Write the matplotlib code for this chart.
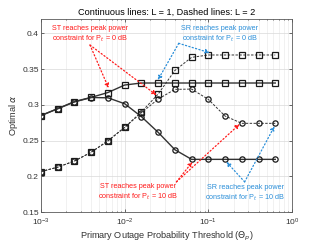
import matplotlib.pyplot as plt
import numpy as np

plt.rcParams['font.family'] = ['Liberation Sans', 'DejaVu Sans']

# outage threshold values (log spaced)
theta = [1e-3, 1.585e-3, 2.512e-3, 3.981e-3, 6.31e-3, 1e-2, 1.585e-2, 2.512e-2,
         3.981e-2, 6.31e-2, 1e-1, 1.585e-1, 2.512e-1, 3.981e-1, 6.31e-1]

# L = 1 (continuous)
l1_pt0 = [0.285, 0.2946, 0.3046, 0.3104, 0.3172, 0.3277, 0.3305, 0.3305,
          0.3305, 0.3305, 0.3305, 0.3305, 0.3305, 0.3305, 0.3305]
l1_pt10 = [0.285, 0.2946, 0.3040, 0.3102, 0.3098, 0.3015, 0.2834, 0.2615,
           0.2372, 0.2237, 0.2237, 0.2237, 0.2237, 0.2237, 0.2237]
# L = 2 (dashed)
l2_pt0 = [0.2066, 0.2128, 0.2214, 0.2337, 0.2496, 0.2685, 0.2900, 0.3150,
          0.3480, 0.3664, 0.3697, 0.3697, 0.3697, 0.3697, 0.3697]
l2_pt10 = [0.2066, 0.2128, 0.2214, 0.2337, 0.2496, 0.2685, 0.2890, 0.3080,
           0.3216, 0.3220, 0.3076, 0.2843, 0.2741, 0.2741, 0.2741]

fig = plt.figure(figsize=(3.23, 2.44), dpi=100)
ax = fig.add_axes([0.127, 0.131, 0.777, 0.791])

lc = '0.2'
mk = dict(markersize=3.8, markerfacecolor='none', markeredgecolor='0.1', markeredgewidth=0.9)
ax.plot(theta, l1_pt0, '-', color=lc, lw=1.0, marker='s', **mk)
ax.plot(theta, l1_pt10, '-', color=lc, lw=1.0, marker='o', **mk)
ax.plot(theta, l2_pt0, '--', color=lc, lw=0.7, marker='s', dashes=(2.5, 1.5), **mk)
ax.plot(theta, l2_pt10, '--', color=lc, lw=0.7, marker='o', dashes=(2.5, 1.5), **mk)

ax.set_xscale('log')
ax.set_xlim(1e-3, 1)
ax.set_ylim(0.15, 0.42)
ax.set_yticks([0.15, 0.2, 0.25, 0.3, 0.35, 0.4])
ax.set_yticklabels(['0.15', '0.2', '0.25', '0.3', '0.35', '0.4'])
ax.grid(True, which='major', color='0.85', lw=0.5)
ax.grid(True, which='minor', axis='x', color='0.9', lw=0.4)
ax.tick_params(which='both', direction='in', top=True, right=True, labelsize=6.1,
               colors='0.2', width=0.5, length=2)
ax.tick_params(axis='y', pad=1.5)
ax.tick_params(axis='x', pad=3.5)
ax.tick_params(which='minor', length=1)
for s in ax.spines.values():
    s.set_color('0.35')
    s.set_linewidth(0.6)

ax.set_title('Continuous lines: L = 1, Dashed lines: L = 2', fontsize=6.6, pad=3)
ax.set_xlabel(r'Primary Outage Probability Threshold ($\Theta_p$)', fontsize=6.6, color='0.2', labelpad=1.5)
ax.set_ylabel(r'Optimal $\alpha$', fontsize=6.6, color='0.2', labelpad=2)

red = '#ff1a1a'
blue = '#2b8fd9'
tfs = 5.2


def arrow(tail, head, c):
    ax.annotate('', xy=head, xytext=tail,
                arrowprops=dict(arrowstyle='-|>', color=c, linestyle=(0, (1, 1.8)), lw=0.9,
                                shrinkA=0, shrinkB=0, mutation_scale=6))


ax.text(0.00385, 0.3984, 'ST reaches peak power\nconstraint for P$_t$ = 0 dB',
        color=red, fontsize=tfs, ha='center', va='center', linespacing=1.3)
arrow((0.00385, 0.3836), (0.00643, 0.3234), red)
arrow((0.00385, 0.3836), (0.0240, 0.3136), red)

ax.text(0.137, 0.3984, 'SR reaches peak power\nconstraint for P$_t$ = 0 dB',
        color=blue, fontsize=tfs, ha='center', va='center', linespacing=1.3)
arrow((0.0443, 0.386), (0.0249, 0.3346), blue)
arrow((0.0443, 0.386), (0.104, 0.3728), blue)

ax.text(0.0145, 0.177, 'ST reaches peak power\nconstraint for P$_t$ = 10 dB',
        color=red, fontsize=tfs, ha='center', va='center', linespacing=1.3)
arrow((0.0416, 0.1922), (0.0646, 0.2202), red)
arrow((0.0416, 0.1922), (0.237, 0.273), red)

ax.text(0.277, 0.1763, 'SR reaches peak power\nconstraint for P$_t$ = 10 dB',
        color=blue, fontsize=tfs, ha='center', va='center', linespacing=1.3)
arrow((0.2716, 0.1922), (0.1644, 0.2202), blue)
arrow((0.2716, 0.1922), (0.619, 0.2702), blue)

fig.savefig('out.png', dpi=100)
